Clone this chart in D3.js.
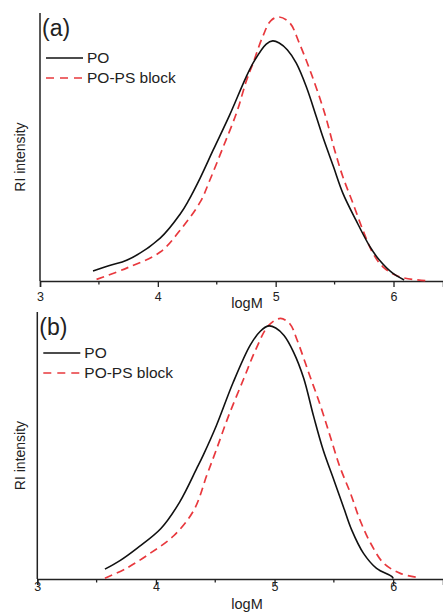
<!DOCTYPE html>
<html>
<head>
<meta charset="utf-8">
<script src="https://cdn.jsdelivr.net/npm/d3@7"></script>
<style>
  body { margin: 0; background: #fff; }
  svg { display: block; font-family: "Liberation Sans", Arial, sans-serif; }
</style>
</head>
<body>
<div id="chart"></div>
<script>
// x ticks shared by both panels
const majorTicks = [3, 4, 5, 6];
const minorTicks = [3.5, 4.5, 5.5];
const seriesNames = ["PO", "PO-PS block"];

// panel (a), intensity normalised 0..1
const logM_a_PO = [3.45, 3.59, 3.74, 4.02, 4.19, 4.26, 4.36, 4.47, 4.61, 4.75, 4.82, 4.92, 4.975, 5.03, 5.10, 5.175, 5.26, 5.345, 5.40, 5.49, 5.57, 5.68, 5.80, 5.88, 5.99, 6.09];
const ri_a_PO    = [0.037, 0.058, 0.078, 0.160, 0.250, 0.300, 0.385, 0.489, 0.620, 0.762, 0.822, 0.884, 0.896, 0.888, 0.862, 0.813, 0.725, 0.613, 0.538, 0.427, 0.328, 0.228, 0.128, 0.078, 0.030, 0.004];
const logM_a_PS = [3.48, 3.74, 4.02, 4.19, 4.36, 4.44, 4.55, 4.67, 4.75, 4.81, 4.89, 4.96, 5.03, 5.12, 5.20, 5.30, 5.415, 5.50, 5.57, 5.655, 5.74, 5.825, 5.91, 6.05, 6.28];
const ri_a_PS    = [0.006, 0.049, 0.108, 0.190, 0.295, 0.375, 0.495, 0.630, 0.745, 0.815, 0.912, 0.972, 0.985, 0.963, 0.888, 0.776, 0.627, 0.489, 0.389, 0.291, 0.190, 0.104, 0.053, 0.016, 0.001];

// panel (b)
const logM_b_PO = [3.57, 3.70, 3.84, 4.04, 4.20, 4.345, 4.40, 4.51, 4.65, 4.795, 4.88, 4.95, 5.01, 5.08, 5.16, 5.245, 5.33, 5.41, 5.50, 5.58, 5.65, 5.75, 5.86, 5.99, 6.00];
const ri_b_PO    = [0.037, 0.070, 0.115, 0.188, 0.288, 0.415, 0.465, 0.575, 0.735, 0.876, 0.928, 0.948, 0.940, 0.912, 0.850, 0.753, 0.608, 0.483, 0.371, 0.271, 0.184, 0.096, 0.040, 0.009, 0.002];
const logM_b_PS = [3.57, 3.75, 3.95, 4.15, 4.32, 4.43, 4.51, 4.61, 4.74, 4.84, 4.95, 5.05, 5.13, 5.19, 5.29, 5.39, 5.47, 5.55, 5.64, 5.72, 5.81, 5.92, 6.06, 6.20];
const ri_b_PS    = [0.003, 0.040, 0.096, 0.162, 0.258, 0.390, 0.485, 0.608, 0.750, 0.858, 0.950, 0.976, 0.955, 0.895, 0.770, 0.645, 0.533, 0.421, 0.321, 0.221, 0.134, 0.059, 0.021, 0.006];

const W = 443, H = 612;
const svg = d3.select("#chart").append("svg")
    .attr("width", W)
    .attr("height", H);

const zip = (xs, ys) => xs.map((x, i) => [x, ys[i]]);

function drawPanel(p) {
    const x = d3.scaleLinear().domain([3, 6.42]).range([p.left, W]);
    const y = d3.scaleLinear().domain([0, 1]).range([p.bottom, p.top]);
    const g = svg.append("g");

    // y axis, no ticks
    g.append("line")
        .attr("x1", p.left).attr("x2", p.left)
        .attr("y1", p.top).attr("y2", p.bottom)
        .attr("stroke", "#222").attr("stroke-width", 1.5);

    // x axis
    const ax = g.append("g").attr("transform", `translate(0,${p.bottom})`)
        .call(d3.axisBottom(x).tickValues(majorTicks).tickSize(6).tickFormat(d3.format("d")));
    ax.select(".domain").attr("stroke", "#222").attr("stroke-width", 1.5);
    ax.selectAll(".tick line").attr("stroke", "#222").attr("stroke-width", 1.3);
    ax.selectAll(".tick text")
        .attr("y", p.labDy).attr("dy", "0.35em")
        .attr("font-size", 12.5).attr("fill", "#222");
    ax.selectAll(".minor").data(minorTicks).enter().append("line")
        .attr("x1", d => x(d)).attr("x2", d => x(d))
        .attr("y1", 0).attr("y2", 3.5)
        .attr("stroke", "#222").attr("stroke-width", 1.3);

    g.append("text")
        .attr("x", 247).attr("y", p.logMY).attr("dy", "0.35em")
        .attr("text-anchor", "middle").attr("font-size", 14.5).attr("fill", "#222")
        .text("logM");

    g.append("text")
        .attr("transform", `translate(20,${(p.top + p.bottom) / 2 + 10}) rotate(-90)`)
        .attr("text-anchor", "middle").attr("dy", "0.35em")
        .attr("font-size", 14).attr("fill", "#222")
        .text("RI intensity");

    g.append("text")
        .attr("x", p.left + 2).attr("y", p.top + 15).attr("dy", "0.35em")
        .attr("font-size", 23).attr("fill", "#222")
        .text(p.tag);

    const line = d3.line()
        .x(d => x(d[0])).y(d => y(d[1]))
        .curve(d3.curveCatmullRom.alpha(0.5));

    g.append("path").datum(zip(p.psX, p.psY))
        .attr("d", line).attr("fill", "none")
        .attr("stroke", "#e8383d").attr("stroke-width", 1.7)
        .attr("stroke-dasharray", "8,5");
    g.append("path").datum(zip(p.poX, p.poY))
        .attr("d", line).attr("fill", "none")
        .attr("stroke", "#111").attr("stroke-width", 1.6);

    // legend
    seriesNames.forEach((name, i) => {
        const ly = p.top + p.legY + i * 20;
        g.append("line")
            .attr("x1", p.left + 6).attr("x2", p.left + 43)
            .attr("y1", ly).attr("y2", ly)
            .attr("stroke", i === 0 ? "#111" : "#e8383d")
            .attr("stroke-width", 1.7)
            .attr("stroke-dasharray", i === 0 ? null : "8,6");
        g.append("text")
            .attr("x", p.left + 47).attr("y", ly).attr("dy", "0.35em")
            .attr("font-size", 15.5).attr("fill", "#222")
            .text(name);
    });
}

drawPanel({ tag: "(a)", left: 40, top: 13, bottom: 281, labDy: 16, logMY: 303, legY: 45,
    poX: logM_a_PO, poY: ri_a_PO, psX: logM_a_PS, psY: ri_a_PS });
drawPanel({ tag: "(b)", left: 37.3, top: 312, bottom: 579, labDy: 8, logMY: 604, legY: 41,
    poX: logM_b_PO, poY: ri_b_PO, psX: logM_b_PS, psY: ri_b_PS });
</script>
</body>
</html>
